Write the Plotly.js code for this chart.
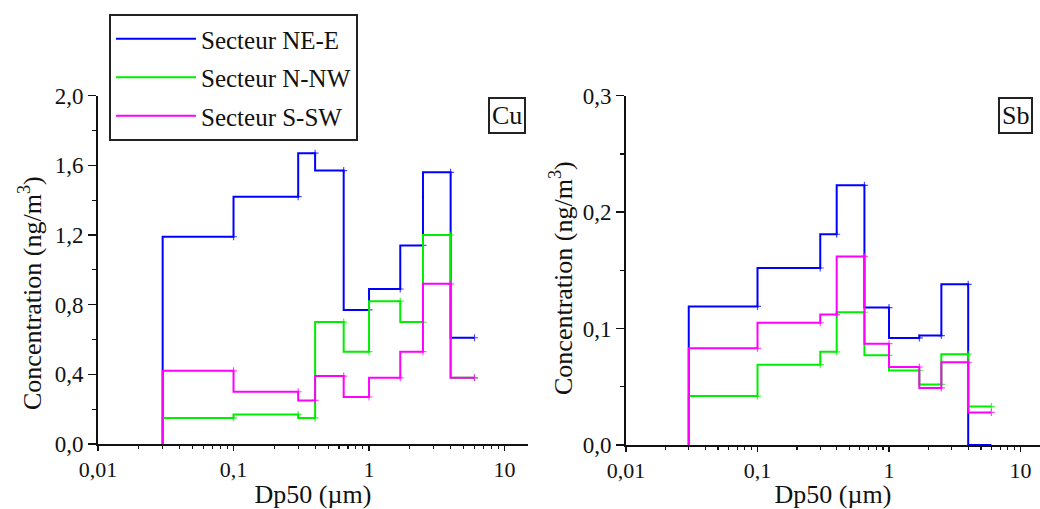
<!DOCTYPE html>
<html>
<head>
<meta charset="utf-8">
<script src="https://cdn.plot.ly/plotly-3.0.1.min.js"></script>
<style>html,body{margin:0;padding:0;background:#fff;}#chart{width:1040px;height:509px;}</style>
</head>
<body>
<div id="chart"></div>
<script>
// Stage cut-off diameters (µm) – right edge of each step
var dp50 = [0.03, 0.1, 0.3, 0.4, 0.65, 1.0, 1.7, 2.5, 4.0, 6.0];
var seriesNames = ['Secteur NE-E', 'Secteur N-NW', 'Secteur S-SW'];
// Cu concentrations (ng/m3)
var cuNE_E = [0, 1.19, 1.42, 1.67, 1.57, 0.77, 0.89, 1.14, 1.56, 0.61];
var cuN_NW = [0, 0.15, 0.17, 0.15, 0.70, 0.53, 0.82, 0.70, 1.20, 0.38];
var cuS_SW = [0, 0.42, 0.30, 0.25, 0.39, 0.27, 0.38, 0.53, 0.92, 0.38];
// Sb concentrations (ng/m3)
var sbNE_E = [0, 0.119, 0.152, 0.181, 0.223, 0.118, 0.092, 0.094, 0.138, 0];
var sbN_NW = [0, 0.042, 0.069, 0.080, 0.114, 0.077, 0.064, 0.052, 0.078, 0.033];
var sbS_SW = [0, 0.083, 0.105, 0.112, 0.162, 0.087, 0.067, 0.049, 0.071, 0.028];
var xTickVals = [0.01, 0.1, 1, 10];
var xTickText = ['0,01', '0,1', '1', '10'];

var colors = ['#0000ff', '#00ee00', '#ff00ff'];
var FONT = 'Liberation Serif';

function stepTrace(y, i, xa, ya, legend) {
  return {x: dp50, y: y, type: 'scatter', mode: 'lines', name: seriesNames[i],
    line: {color: colors[i], width: 2, shape: 'vh'}, xaxis: xa, yaxis: ya,
    showlegend: legend, legendgroup: 'g' + i};
}
function markTrace(y, i, xa, ya) {
  return {x: dp50, y: y, type: 'scatter', mode: 'markers', showlegend: false,
    marker: {symbol: 'cross-thin', size: y.map(function (v) { return v > 0 ? 5 : 0; }),
      color: colors[i], line: {color: colors[i], width: 1.2}},
    xaxis: xa, yaxis: ya, hoverinfo: 'skip', cliponaxis: true};
}

var cu = [cuNE_E, cuN_NW, cuS_SW];
var sb = [sbNE_E, sbN_NW, sbS_SW];
var data = [];
for (var i = 0; i < 3; i++) { data.push(stepTrace(cu[i], i, 'x', 'y', true)); data.push(markTrace(cu[i], i, 'x', 'y')); }
for (var j = 0; j < 3; j++) { data.push(stepTrace(sb[j], j, 'x2', 'y2', false)); data.push(markTrace(sb[j], j, 'x2', 'y2')); }

var minorX = [];
[0.01, 0.1, 1].forEach(function (d) { for (var k = 2; k <= 9; k++) minorX.push(+(d * k).toPrecision(3)); });

function xAxis(domain, range, anchor) {
  return {type: 'log', domain: domain, range: range, anchor: anchor,
    showline: true, linecolor: '#111', linewidth: 2, showgrid: false, zeroline: false,
    tickmode: 'array', tickvals: xTickVals, ticktext: xTickText,
    ticks: 'outside', ticklen: 5, tickwidth: 1.5, tickcolor: '#111',
    minor: {tickmode: 'array', tickvals: minorX, ticks: 'outside', ticklen: 3, tickwidth: 1.2, tickcolor: '#111', showgrid: false},
    tickfont: {family: FONT, size: 22, color: '#111'},
    title: {text: 'Dp50 (µm)', font: {family: FONT, size: 26, color: '#111'}, standoff: 3},
    fixedrange: true};
}
function yAxis(domain, range, dtick, minorDtick, anchor) {
  return {domain: domain, range: range, anchor: anchor,
    showline: true, linecolor: '#111', linewidth: 2, showgrid: false, zeroline: false,
    tickmode: 'linear', tick0: 0, dtick: dtick, tickformat: '.1f',
    ticks: 'outside', ticklen: 8, tickwidth: 1.5, tickcolor: '#111',
    minor: {dtick: minorDtick, ticks: 'outside', ticklen: 4, tickwidth: 1.2, tickcolor: '#111', showgrid: false},
    tickfont: {family: FONT, size: 23, color: '#111'}, fixedrange: true};
}

var layout = {
  width: 1040, height: 509,
  margin: {l: 0, r: 0, t: 0, b: 0},
  paper_bgcolor: '#fff', plot_bgcolor: '#fff',
  separators: ', ',
  font: {family: FONT, color: '#111'},
  xaxis: xAxis([98 / 1040, 528 / 1040], [-2, 1.173], 'y'),
  yaxis: yAxis([65 / 509, 413.3 / 509], [0, 2.0], 0.4, 0.2, 'x'),
  xaxis2: xAxis([626 / 1040, 1], [-2, 1.148], 'y2'),
  yaxis2: yAxis([64 / 509, 413.3 / 509], [0, 0.3], 0.1, 0.05, 'x2'),
  showlegend: true,
  legend: {x: 109 / 1040, y: 495 / 509, xanchor: 'left', yanchor: 'top',
    bgcolor: '#fff', bordercolor: '#222', borderwidth: 2,
    font: {family: FONT, size: 25, color: '#111'}, itemwidth: 80, tracegroupgap: 3},
  annotations: [
    {text: 'Cu', xref: 'paper', yref: 'paper', x: 506.5 / 1040, y: (509 - 115) / 509, xanchor: 'center', yanchor: 'middle',
      showarrow: false, font: {family: FONT, size: 26, color: '#111'}, bordercolor: '#222', borderwidth: 2, borderpad: 2, bgcolor: '#fff'},
    {text: 'Sb', xref: 'paper', yref: 'paper', x: 1015.5 / 1040, y: (509 - 115) / 509, xanchor: 'center', yanchor: 'middle',
      showarrow: false, font: {family: FONT, size: 26, color: '#111'}, bordercolor: '#222', borderwidth: 2, borderpad: 2, bgcolor: '#fff'},
    {text: 'Concentration (ng/m<sup>3</sup>)', xref: 'paper', yref: 'paper', x: 30 / 1040, y: (509 - 293) / 509,
      xanchor: 'center', yanchor: 'middle', textangle: -90, showarrow: false, font: {family: FONT, size: 26, color: '#111'}},
    {text: 'Concentration (ng/m<sup>3</sup>)', xref: 'paper', yref: 'paper', x: 561 / 1040, y: (509 - 278) / 509,
      xanchor: 'center', yanchor: 'middle', textangle: -90, showarrow: false, font: {family: FONT, size: 26, color: '#111'}}
  ]
};

Plotly.newPlot('chart', data, layout, {displayModeBar: false, staticPlot: true});
</script>
</body>
</html>
